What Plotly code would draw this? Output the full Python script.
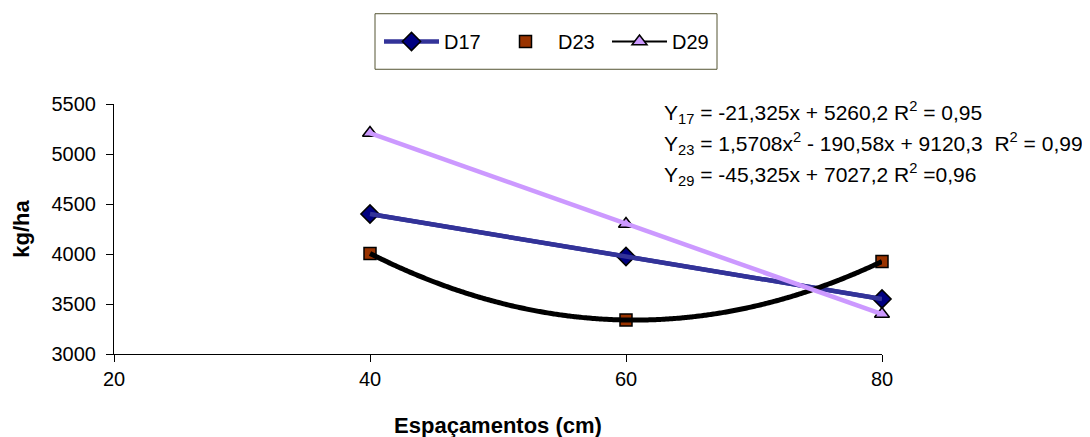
import numpy as np
import plotly.graph_objects as go

x_vals = [40, 60, 80]
d17 = [4400, 3975, 3550]
d23 = [4005, 3340, 3925]
d29 = [5210, 4300, 3400]

eq_lines = [
    "Y<sub>17</sub> = -21,325x + 5260,2 R<sup>2</sup> = 0,95",
    "Y<sub>23</sub> = 1,5708x<sup>2</sup> - 190,58x + 9120,3  R<sup>2</sup> = 0,99",
    "Y<sub>29</sub> = -45,325x + 7027,2 R<sup>2</sup> =0,96",
]

FONT = "Liberation Sans, Arial, sans-serif"

# layout geometry in page pixels (page body has an 8px offset)
OFF = 8
PL, PR, PT, PB = 114, 882, 104, 356
PW, PH = PR - PL, PB - PT


def px(xp):
    return (xp - PL) / PW


def py(yp):
    return (PB - yp) / PH


xs = np.array(x_vals, dtype=float)
xfine = np.linspace(xs.min(), xs.max(), 200)
fit17 = np.polyval(np.polyfit(xs, d17, 1), xfine)
fit23 = np.polyval(np.polyfit(xs, d23, 2), xfine)
fit29 = np.polyval(np.polyfit(xs, d29, 1), xfine)

fig = go.Figure()
# data series
fig.add_trace(go.Scatter(x=x_vals, y=d17, name="D17", mode="lines+markers",
                         line=dict(color="#333399", width=4.5),
                         marker=dict(symbol="diamond", size=14, color="#000080",
                                     line=dict(color="black", width=1.5))))
fig.add_trace(go.Scatter(x=x_vals, y=d23, name="D23", mode="markers",
                         marker=dict(symbol="square", size=12, color="#993300",
                                     line=dict(color="black", width=1.5))))
fig.add_trace(go.Scatter(x=x_vals, y=d29, name="D29", mode="lines+markers",
                         line=dict(color="black", width=2),
                         marker=dict(symbol="triangle-up", size=13, color="#CC99FF",
                                     line=dict(color="black", width=1.5))))
# trendlines (drawn on top)
fig.add_trace(go.Scatter(x=xfine, y=fit17, mode="lines", showlegend=False,
                         line=dict(color="#333399", width=4.5), hoverinfo="skip"))
fig.add_trace(go.Scatter(x=xfine, y=fit23, mode="lines", showlegend=False,
                         line=dict(color="black", width=5, shape="spline"),
                         hoverinfo="skip"))
fig.add_trace(go.Scatter(x=xfine, y=fit29, mode="lines", showlegend=False,
                         line=dict(color="#CC99FF", width=4.5), hoverinfo="skip"))

line_y = [112.5, 144, 175.5]
for t, yv in zip(eq_lines, line_y):
    fig.add_annotation(text=t, xref="paper", yref="paper",
                       x=px(662), y=py(yv),
                       xanchor="left", yanchor="middle", showarrow=False,
                       font=dict(family=FONT, size=21, color="black"))

# legend frame
fig.add_shape(type="rect", xref="paper", yref="paper",
              x0=px(375), x1=px(717), y0=py(69), y1=py(13),
              line=dict(color="#555533", width=1), fillcolor="rgba(0,0,0,0)")

fig.update_traces(cliponaxis=False)

fig.update_layout(
    width=1090, height=437,
    margin=dict(l=PL - OFF, r=1090 + OFF - PR, t=PT - OFF, b=437 + OFF - PB),
    paper_bgcolor="white", plot_bgcolor="white",
    font=dict(family=FONT, size=20, color="black"),
    showlegend=True,
    legend=dict(orientation="h", x=px(379), y=py(41),
                xanchor="left", yanchor="middle",
                borderwidth=0, bgcolor="rgba(0,0,0,0)",
                font=dict(family=FONT, size=20),
                itemwidth=55, entrywidth=44, tracegroupgap=0),
    xaxis=dict(range=[20, 80], tickvals=[20, 40, 60, 80], showgrid=False,
               zeroline=False, showline=True, linecolor="black", linewidth=1,
               ticks="outside", ticklen=7, tickcolor="black",
               tickfont=dict(family=FONT, size=20),
               title=dict(text="<b>Espaçamentos (cm)</b>", standoff=28,
                          font=dict(family=FONT, size=22))),
    yaxis=dict(range=[3000, 5500], tickvals=[3000, 3500, 4000, 4500, 5000, 5500],
               showgrid=False, zeroline=False, showline=True, linecolor="black",
               linewidth=1, ticks="outside", ticklen=7, tickcolor="black",
               tickfont=dict(family=FONT, size=20), ticklabelstandoff=6,
               title=dict(text="<b>kg/ha</b>", standoff=15,
                          font=dict(family=FONT, size=22))),
)

fig.write_html("out.html")
